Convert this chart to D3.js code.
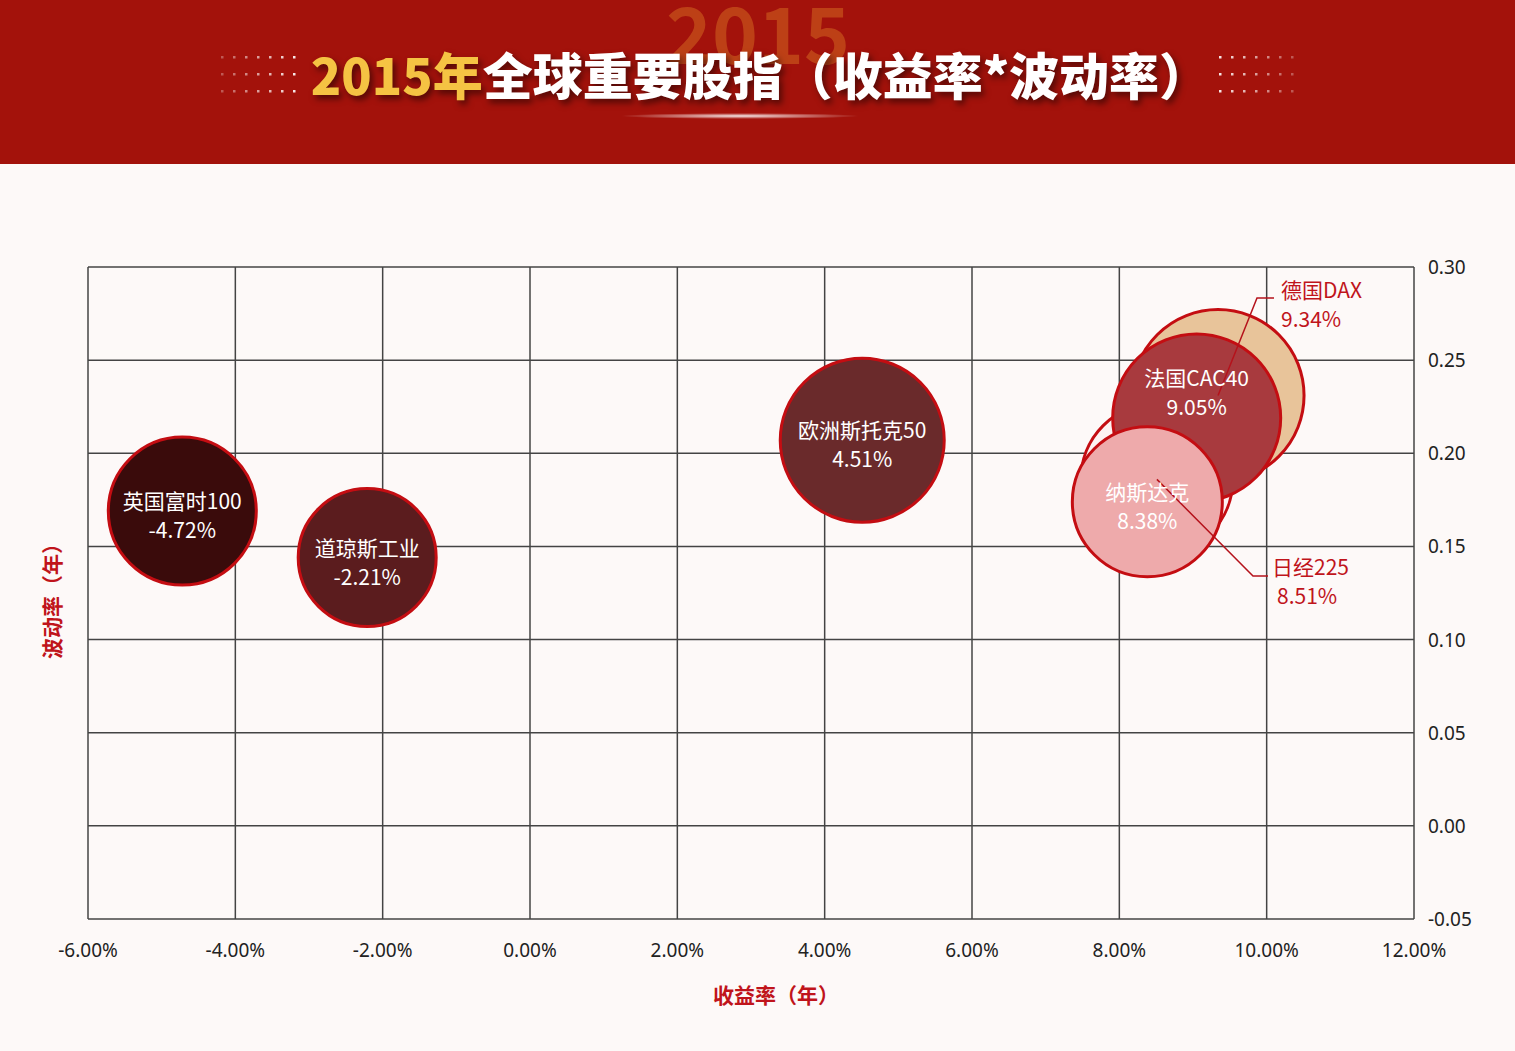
<!DOCTYPE html>
<html><head><meta charset="utf-8">
<script src="https://cdn.jsdelivr.net/npm/d3@7/dist/d3.min.js"></script>
<style>body{margin:0;background:#fdf9f8;font-family:"Noto Sans CJK SC","Noto Sans",sans-serif}</style>
</head><body><svg id="c" width="1515" height="1051"></svg>
<script>
const names=["英国富时100","道琼斯工业","欧洲斯托克50","德国DAX","法国CAC40","日经225","纳斯达克"];
const returns=[-4.72,-2.21,4.51,9.34,9.05,8.51,8.38];
const vols=[0.169,0.144,0.207,0.231,0.219,0.186,0.174];
const sizes=[74,69,82,86,84,76,75];
const fills=["#3a0b0b","#5b1c1e","#6a2a2b","#e8c49a","#a83a3e","#fdf2f2","#eeaaab"];
const xTicks=[-6,-4,-2,0,2,4,6,8,10,12];
const yTicks=[0.30,0.25,0.20,0.15,0.10,0.05,0.00,-0.05];
const svg=d3.select("#c");
svg.append("rect").attr("width",1515).attr("height",164).attr("fill","#a3120b");
const defs=svg.append("defs");
const g1=defs.append("radialGradient").attr("id","glow");
g1.append("stop").attr("offset","0").attr("stop-color","#fff").attr("stop-opacity",0.9);
g1.append("stop").attr("offset","1").attr("stop-color","#fff").attr("stop-opacity",0);
svg.append("ellipse").attr("cx",740).attr("cy",116).attr("rx",120).attr("ry",3).attr("fill","url(#glow)");
svg.append("text").attr("x",758).attr("y",64).attr("text-anchor","middle").attr("font-size",78).attr("font-weight",700)
 .attr("fill","#c8541c").attr("opacity",0.7).text("2015");
[[222,294],[1220,1292]].forEach(([a,b])=>{for(let r=0;r<3;r++)for(let i=0;i<7;i++)
 svg.append("rect").attr("x",a+i*(b-a)/6-1).attr("y",56+r*17).attr("width",2.5).attr("height",2.5).attr("fill","#fff").attr("opacity",a<500?0.3+0.1*i:0.9-0.1*i);});
const t=svg.append("text").attr("x",760).attr("y",95).attr("text-anchor","middle").attr("font-size",50).attr("font-weight",900)
 .style("filter","drop-shadow(3px 4px 3px rgba(0,0,0,0.5))");
t.append("tspan").attr("fill","#f5c343").text("2015年");
t.append("tspan").attr("fill","#fff").text("全球重要股指（收益率*波动率）");
const x=d3.scaleLinear().domain([-6,12]).range([88,1414]);
const y=d3.scaleLinear().domain([-0.05,0.30]).range([919,267]);
const gr=svg.append("g").attr("stroke","#444").attr("stroke-width",1.5);
xTicks.forEach(v=>gr.append("line").attr("x1",x(v)).attr("x2",x(v)).attr("y1",y(0.30)).attr("y2",y(-0.05)));
yTicks.forEach(v=>gr.append("line").attr("x1",x(-6)).attr("x2",x(12)).attr("y1",y(v)).attr("y2",y(v)));
xTicks.forEach(v=>svg.append("text").attr("x",x(v)).attr("y",957).attr("text-anchor","middle").attr("font-size",19).attr("fill","#222").attr("font-family","Noto Sans").text(v.toFixed(2)+"%"));
yTicks.forEach(v=>svg.append("text").attr("x",1428).attr("y",y(v)+7).attr("font-size",19).attr("fill","#222").attr("font-family","Noto Sans").text(v.toFixed(2)));
svg.append("text").attr("x",776).attr("y",1003).attr("text-anchor","middle").attr("font-size",21).attr("font-weight",700).attr("fill","#c0141b").text("收益率（年）");
svg.append("text").attr("transform","translate(60,596) rotate(-90)").attr("text-anchor","middle").attr("font-size",21).attr("font-weight",700).attr("fill","#c0141b").text("波动率（年）");
const order=[0,1,2,3,5,4,6];
order.forEach(i=>svg.append("circle").attr("cx",x(returns[i])).attr("cy",y(vols[i])).attr("r",sizes[i]).attr("fill",fills[i]).attr("stroke","#c40d12").attr("stroke-width",3));
const ln=svg.append("g").attr("stroke","#b5121b").attr("stroke-width",1.5).attr("fill","none");
ln.append("polyline").attr("points",`${x(returns[3])},${y(vols[3])} 1257,298 1274,298`);
ln.append("polyline").attr("points",`${x(returns[5])},${y(vols[5])} 1253,576 1268,576`);
const off={4:-30};
[0,1,2,4,6].forEach(i=>{const tt=svg.append("text").attr("text-anchor","middle").attr("font-size",21).attr("fill","#fff").attr("font-family","Noto Sans CJK SC");
 const cx=x(returns[i]),cy=y(vols[i])+(off[i]||0);
 tt.append("tspan").attr("x",cx).attr("y",cy-2).text(names[i]);
 tt.append("tspan").attr("x",cx).attr("y",cy+27).text(returns[i].toFixed(2)+"%");});
[[3,1281,298],[5,1272,575]].forEach(([i,lx,ly])=>{const tt=svg.append("text").attr("font-size",21).attr("fill","#c0141b").attr("font-family","Noto Sans CJK SC");
 tt.append("tspan").attr("x",lx).attr("y",ly).text(names[i]);
 tt.append("tspan").attr("x",lx+(i==5?5:0)).attr("y",ly+29).text(returns[i].toFixed(2)+"%");});
</script></body></html>
